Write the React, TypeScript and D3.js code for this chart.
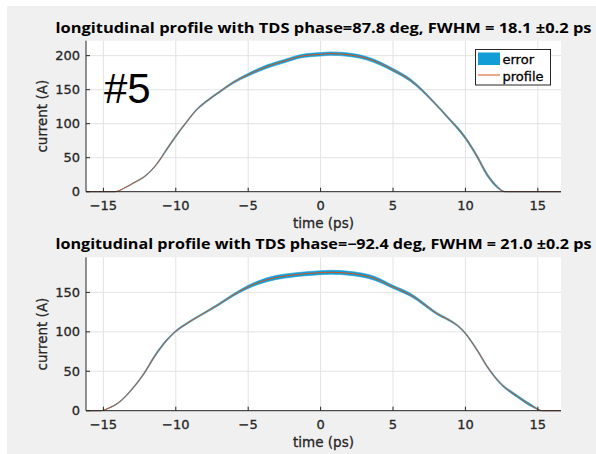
import React from "react";
import * as d3 from "d3";

const xTicks = [-15, -10, -5, 0, 5, 10, 15];
const topYTicks = [0, 50, 100, 150, 200];
const bottomYTicks = [0, 50, 100, 150];

const topTitle = "longitudinal profile with TDS phase=87.8 deg, FWHM = 18.1 \u00b10.2 ps";
const bottomTitle = "longitudinal profile with TDS phase=\u221292.4 deg, FWHM = 21.0 \u00b10.2 ps";
const xLabel = "time (ps)";
const yLabel = "current (A)";
const legendLabels = ["error", "profile"];
const annotation = "#5";

const topTime = [-16.2, -14.2, -13.5, -12.9, -12.0, -11.3, -10.6, -10.05, -9.2, -8.5, -8.0, -7.5, -7.1, -6.0, -5.0, -3.7, -2.5, -1.4, 0.0, 0.7, 2.1, 3.2, 5.0, 6.2, 7.8, 8.75, 10.0, 10.8, 11.5, 12.2, 12.7, 13.0, 16.6];
const topCurrent = [0, 0, 6, 13, 25, 41, 63, 80, 104, 122, 131, 139, 145, 161, 172, 184, 192, 199, 202, 203, 201, 196, 179, 164, 132, 110, 79, 52, 25, 7, 0, 0, 0];
const topError = [0, 0, 0.4, 0.6, 0.8, 1.0, 1.5, 1.5, 1.2, 1.2, 1.2, 1.2, 1.2, 1.5, 2, 2.5, 2.5, 2.5, 2.5, 2.5, 2.5, 2.5, 2.2, 2, 1.5, 1.5, 2, 2.2, 2.2, 1.5, 0.5, 0, 0];

const bottomTime = [-16.2, -15.2, -14.6, -14.0, -12.9, -12.2, -11.5, -10.6, -10.05, -9.2, -8.3, -7.1, -6.0, -5.0, -3.7, -1.4, 0.0, 0.7, 2.1, 3.7, 5.0, 6.2, 7.8, 10.0, 10.8, 11.5, 12.4, 13.6, 14.7, 15.3, 16.6];
const bottomCurrent = [0, 0, 3.5, 9.5, 30, 47, 68, 90, 100, 111, 121, 134, 147, 157, 166, 173, 175, 175.5, 174, 168, 157, 147, 126, 98, 77, 56, 35, 18, 5, 0, 0];
const bottomError = [0, 0, 0.4, 0.6, 1, 1.2, 1.5, 1.2, 1, 1, 1, 1.2, 1.5, 2, 2.5, 2.5, 2.5, 2.5, 2.5, 2.5, 2, 2, 1.5, 1, 1.2, 1.2, 1.2, 1.5, 1.2, 0, 0];

const BLUE = "#139dd6";
const ORANGE = "#d95319";
const AXIS = "#262626";
const GRID = "#e3e3e3";
const FONT = "'DejaVu Sans', sans-serif";
const TITLE_FONT = "'Open Sans', 'DejaVu Sans', sans-serif";

type Pt = { t: number; c: number; e: number };

type PanelProps = {
  top: number;
  bottom: number;
  yMax: number;
  yTicks: number[];
  time: number[];
  current: number[];
  error: number[];
  title: string;
  legend?: boolean;
  note?: boolean;
};

const LEFT = 86;
const RIGHT = 561;

function Panel({ top, bottom, yMax, yTicks, time, current, error, title, legend, note }: PanelProps) {
  const x = d3.scaleLinear().domain([-16.2, 16.6]).range([LEFT, RIGHT]);
  const y = d3.scaleLinear().domain([0, yMax]).range([bottom, top]);
  const pts: Pt[] = time.map((t, i) => ({ t, c: current[i], e: error[i] }));
  const area = d3
    .area<Pt>()
    .x((d) => x(d.t))
    .y0((d) => y(Math.max(0, d.c - d.e)))
    .y1((d) => y(d.c + d.e))
    .curve(d3.curveMonotoneX);
  const line = d3
    .line<Pt>()
    .x((d) => x(d.t))
    .y((d) => y(d.c))
    .curve(d3.curveMonotoneX);
  const cx = (LEFT + RIGHT) / 2;
  const textStroke = { stroke: AXIS, strokeWidth: 0.3 };
  return (
    <g>
      <rect x={LEFT} y={top} width={RIGHT - LEFT} height={bottom - top} fill="#ffffff" />
      {xTicks.map((t) => (
        <line key={"gx" + t} x1={x(t)} x2={x(t)} y1={top} y2={bottom} stroke={GRID} strokeWidth={1} />
      ))}
      {yTicks.map((v) => (
        <line key={"gy" + v} x1={LEFT} x2={RIGHT} y1={y(v)} y2={y(v)} stroke={GRID} strokeWidth={1} />
      ))}
      <path d={area(pts) || ""} fill={BLUE} stroke={BLUE} strokeWidth={0.6} />
      <path d={line(pts) || ""} fill="none" stroke={ORANGE} strokeWidth={1} />
      <line x1={LEFT} x2={LEFT} y1={top} y2={bottom} stroke={AXIS} strokeWidth={1} />
      <line x1={LEFT} x2={RIGHT} y1={bottom} y2={bottom} stroke={AXIS} strokeWidth={1} />
      {xTicks.map((t) => (
        <g key={"tx" + t}>
          <line x1={x(t)} x2={x(t)} y1={bottom} y2={bottom - 4} stroke={AXIS} strokeWidth={1} />
          <text x={x(t)} y={bottom + 18} textAnchor="middle" fontFamily={FONT} fontSize={13} fill={AXIS} {...textStroke}>
            {t < 0 ? "\u2212" + Math.abs(t) : String(t)}
          </text>
        </g>
      ))}
      {yTicks.map((v) => (
        <g key={"ty" + v}>
          <line x1={LEFT} x2={LEFT + 4} y1={y(v)} y2={y(v)} stroke={AXIS} strokeWidth={1} />
          <text x={LEFT - 6} y={y(v) + 4.5} textAnchor="end" fontFamily={FONT} fontSize={13} fill={AXIS} {...textStroke}>
            {v}
          </text>
        </g>
      ))}
      <text x={cx} y={bottom + 36} textAnchor="middle" fontFamily={FONT} fontSize={13.5} fill={AXIS} {...textStroke}>
        {xLabel}
      </text>
      <text
        transform={`translate(47,${(top + bottom) / 2}) rotate(-90)`}
        textAnchor="middle"
        fontFamily={FONT}
        fontSize={13.5}
        fill={AXIS}
        {...textStroke}
      >
        {yLabel}
      </text>
      <text
        x={cx}
        y={top - 8}
        textAnchor="middle"
        fontFamily={TITLE_FONT}
        fontWeight="bold"
        fontSize={14}
        fill="#000"
        textLength={536}
        lengthAdjust="spacingAndGlyphs"
      >
        {title}
      </text>
      {note && (
        <text x={104} y={103} fontFamily="'Liberation Sans', Arial, sans-serif" fontSize={42} fill="#000">
          {annotation}
        </text>
      )}
      {legend && (
        <g>
          <rect x={475.5} y={49.5} width={75} height={35.5} fill="#fff" stroke={AXIS} strokeWidth={1} />
          <rect x={478} y={52.5} width={22} height={12.5} fill={BLUE} />
          <line x1={478} x2={500} y1={75} y2={75} stroke={ORANGE} strokeWidth={1} />
          <text x={502.5} y={64} fontFamily={FONT} fontSize={13} fill="#000" stroke="#000" strokeWidth={0.3}>
            {legendLabels[0]}
          </text>
          <text x={502.5} y={80.5} fontFamily={FONT} fontSize={13} fill="#000" stroke="#000" strokeWidth={0.3}>
            {legendLabels[1]}
          </text>
        </g>
      )}
    </g>
  );
}

export default function App() {
  return (
    <svg
      width={596}
      height={454}
      style={{ position: "absolute", left: 0, top: 0, background: "#ffffff" }}
    >
      <rect x={7} y={6} width={589} height={448} fill="#f0f0f0" />
      <Panel
        top={40.7}
        bottom={191.7}
        yMax={222}
        yTicks={topYTicks}
        time={topTime}
        current={topCurrent}
        error={topError}
        title={topTitle}
        legend
        note
      />
      <Panel
        top={257.3}
        bottom={410.7}
        yMax={194.5}
        yTicks={bottomYTicks}
        time={bottomTime}
        current={bottomCurrent}
        error={bottomError}
        title={bottomTitle}
      />
    </svg>
  );
}
